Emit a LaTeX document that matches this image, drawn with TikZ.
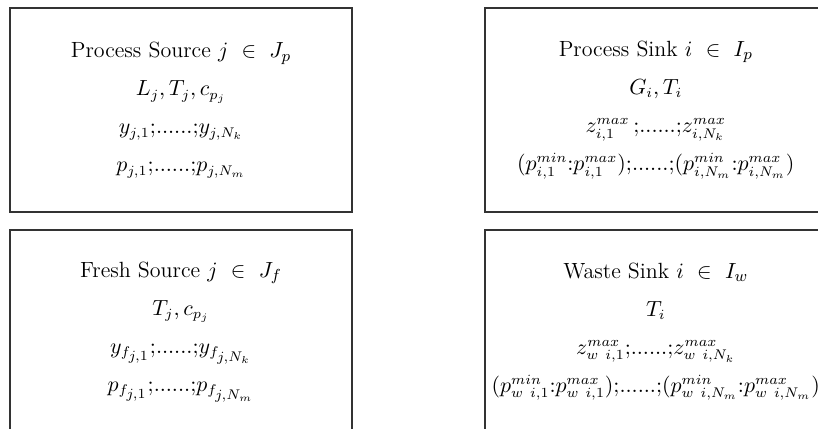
\documentclass[tikz,border=0pt]{standalone}
\usepackage{amsmath,amssymb}
\usepackage{tikz}
\usetikzlibrary{positioning}
\newcommand{\mrow}[1]{{\fontsize{10.5}{19}\selectfont$#1$}}

\begin{document}
\begin{tikzpicture}[x=0.5pt, y=-0.5pt,
  unit/.style={draw=black!80, line width=0.9pt, minimum width=171pt, minimum height=102pt,
    inner sep=0pt, align=center,
    font=\fontsize{11}{19}\selectfont}]
\useasboundingbox (0,0) rectangle (818,428);
\clip (0,0) rectangle (818,428);
\node[unit] (psrc) at (181,110) {Process Source $j~\in~J_p$\\
  \mrow{L_j, T_j, c_{p_j}}\\
  \mrow{y_{j,1}{;}......{;}y_{j,N_k}}\\
  \mrow{p_{j,1}{;}......{;}p_{j,N_m}}};
\node[unit, right=65.5pt of psrc] (psnk) {Process Sink $i~\in~I_p$\\
  \mrow{G_i, T_i}\\
  \mrow{z^{max}_{i,1}\,{;}......{;}z^{max}_{i,N_k}}\\
  \mrow{(p^{min}_{i,1}{:}p^{max}_{i,1}){;}......{;}(p^{min}_{i,N_m}{:}p^{max}_{i,N_m})}};
\node[unit, below=8pt of psrc] (fsrc) {Fresh Source $j~\in~J_f$\\
  \mrow{T_j, c_{p_j}}\\
  \mrow{y_{f_{\scriptstyle j,1}}{;}......{;}y_{f_{\scriptstyle j,N_k}}}\\
  \mrow{p_{f_{\scriptstyle j,1}}{;}......{;}p_{f_{\scriptstyle j,N_m}}}};
\node[unit, below=8pt of psnk] (wsnk) {Waste Sink $i~\in~I_w$\\
  \mrow{T_i}\\
  \mrow{z^{max}_{w~i,1}{;}......{;}z^{max}_{w~i,N_k}}\\
  \mrow{(p^{min}_{w~i,1}{:}p^{max}_{w~i,1}){;}......{;}(p^{min}_{w~i,N_m}{:}p^{max}_{w~i,N_m})}};
\end{tikzpicture}
\end{document}
